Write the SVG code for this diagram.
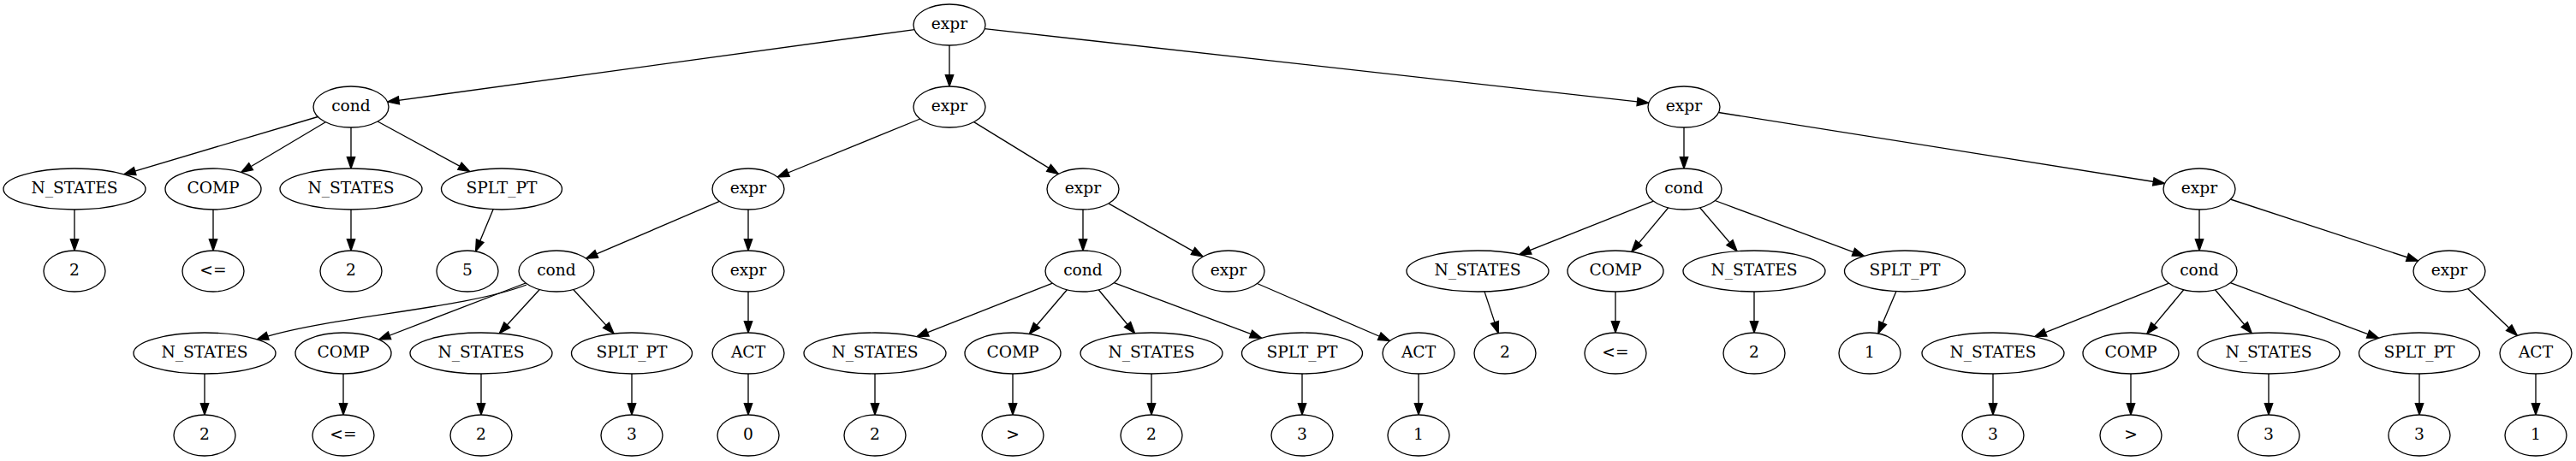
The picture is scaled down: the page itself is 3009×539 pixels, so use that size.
<svg xmlns="http://www.w3.org/2000/svg" width="3009" height="539" viewBox="0 0 3009 539">
<style>
.node ellipse{fill:#fff;stroke:#000;stroke-width:1.33}
.node text{font-family:"DejaVu Serif","Liberation Serif",serif;font-size:18.67px;text-anchor:middle;fill:#000}
#edges path{fill:none;stroke:#000;stroke-width:1.33;marker-end:url(#ah)}
</style>
<defs>
<marker id="ah" markerUnits="userSpaceOnUse" markerWidth="15" markerHeight="11" refX="13.33" refY="4.67" orient="auto" overflow="visible">
<path d="M0,0 L13.33,4.67 L0,9.33 Z" fill="#000" stroke="#000" stroke-width="1.33"/>
</marker>
</defs>
<rect width="3009" height="539" fill="#fff"/>
<g id="edges">
<path d="M1068.2,34.6 L452.7,119.1"/>
<path d="M1109,53 L1109,101"/>
<path d="M1150.2,33.6 L1925.8,120.4"/>
<path d="M371.4,136.5 L144.9,203.8"/>
<path d="M380.3,142.7 L281.7,201.5"/>
<path d="M410,149 L410,197"/>
<path d="M441.1,142 L548.7,200.6"/>
<path d="M1074.8,139 L908.2,207"/>
<path d="M1137.6,142.6 L1236.4,203.4"/>
<path d="M1967,149 L1967,197"/>
<path d="M2007.5,131.5 L2528.5,214.5"/>
<path d="M87,245 L87,293"/>
<path d="M249,245 L249,293"/>
<path d="M410,245 L410,293"/>
<path d="M576.1,244.8 L555.6,293.9"/>
<path d="M840.4,235.4 L684.6,302.2"/>
<path d="M874,245 L874,293"/>
<path d="M1265,245 L1265,293"/>
<path d="M1294.9,237.9 L1405.1,300.1"/>
<path d="M1931.5,235.2 L1774.8,297.6"/>
<path d="M1948.8,242.8 L1905.8,294.4"/>
<path d="M1985.6,242.8 L2029.1,293.7"/>
<path d="M2003.3,234.5 L2177.4,299.3"/>
<path d="M2569,245 L2569,293"/>
<path d="M2605.4,233 L2824.6,305"/>
<path d="M615,333 C540,362 380,370 300,397"/>
<path d="M614,331 L442.6,397"/>
<path d="M630.3,338.5 L583.3,389.8"/>
<path d="M669.7,338.5 L717,390.1"/>
<path d="M874,341 L874,389"/>
<path d="M1229.4,331.1 L1071,393.6"/>
<path d="M1246.4,338.8 L1202.3,390.5"/>
<path d="M1283.2,338.8 L1325.6,389.7"/>
<path d="M1301.3,330.6 L1473.6,395.2"/>
<path d="M1468.5,331.5 L1623.5,398.5"/>
<path d="M1734,340.9 L1750.2,389.6"/>
<path d="M1887,341 L1887,389"/>
<path d="M2049,341 L2049,389"/>
<path d="M2214.9,340.8 L2193.9,389.9"/>
<path d="M2533.5,331.2 L2376.8,393.6"/>
<path d="M2550.8,338.8 L2507.8,390.4"/>
<path d="M2587.4,338.8 L2630.3,389.7"/>
<path d="M2605.3,330.6 L2778.5,395.3"/>
<path d="M2882.6,337.6 L2940.4,392.4"/>
<path d="M239,437 L239,485"/>
<path d="M401,437 L401,485"/>
<path d="M562,437 L562,485"/>
<path d="M738,437 L738,485"/>
<path d="M874,437 L874,485"/>
<path d="M1022,437 L1022,485"/>
<path d="M1183,437 L1183,485"/>
<path d="M1345,437 L1345,485"/>
<path d="M1521,437 L1521,485"/>
<path d="M1657,437 L1657,485"/>
<path d="M2328,437 L2328,485"/>
<path d="M2489,437 L2489,485"/>
<path d="M2650,437 L2650,485"/>
<path d="M2826,437 L2826,485"/>
<path d="M2962,437 L2962,485"/>
</g>
<g id="n0" class="node"><ellipse cx="1109" cy="29" rx="42" ry="24"/><text x="1109" y="34">expr</text></g>
<g id="n1" class="node"><ellipse cx="410" cy="125" rx="44" ry="24"/><text x="410" y="130">cond</text></g>
<g id="n2" class="node"><ellipse cx="1109" cy="125" rx="42" ry="24"/><text x="1109" y="130">expr</text></g>
<g id="n3" class="node"><ellipse cx="1967" cy="125" rx="42" ry="24"/><text x="1967" y="130">expr</text></g>
<g id="n4" class="node"><ellipse cx="87" cy="221" rx="83" ry="24"/><text x="87" y="226">N_STATES</text></g>
<g id="n5" class="node"><ellipse cx="249" cy="221" rx="56" ry="24"/><text x="249" y="226">COMP</text></g>
<g id="n6" class="node"><ellipse cx="410" cy="221" rx="83" ry="24"/><text x="410" y="226">N_STATES</text></g>
<g id="n7" class="node"><ellipse cx="586" cy="221" rx="70.5" ry="24"/><text x="586" y="226">SPLT_PT</text></g>
<g id="n8" class="node"><ellipse cx="874" cy="221" rx="42" ry="24"/><text x="874" y="226">expr</text></g>
<g id="n9" class="node"><ellipse cx="1265" cy="221" rx="42" ry="24"/><text x="1265" y="226">expr</text></g>
<g id="n10" class="node"><ellipse cx="1967" cy="221" rx="44" ry="24"/><text x="1967" y="226">cond</text></g>
<g id="n11" class="node"><ellipse cx="2569" cy="221" rx="42" ry="24"/><text x="2569" y="226">expr</text></g>
<g id="n12" class="node"><ellipse cx="87" cy="317" rx="36" ry="24"/><text x="87" y="322">2</text></g>
<g id="n13" class="node"><ellipse cx="249" cy="317" rx="36" ry="24"/><text x="249" y="322">&lt;=</text></g>
<g id="n14" class="node"><ellipse cx="410" cy="317" rx="36" ry="24"/><text x="410" y="322">2</text></g>
<g id="n15" class="node"><ellipse cx="546" cy="317" rx="36" ry="24"/><text x="546" y="322">5</text></g>
<g id="n16" class="node"><ellipse cx="650" cy="317" rx="44" ry="24"/><text x="650" y="322">cond</text></g>
<g id="n17" class="node"><ellipse cx="874" cy="317" rx="42" ry="24"/><text x="874" y="322">expr</text></g>
<g id="n18" class="node"><ellipse cx="1265" cy="317" rx="44" ry="24"/><text x="1265" y="322">cond</text></g>
<g id="n19" class="node"><ellipse cx="1435" cy="317" rx="42" ry="24"/><text x="1435" y="322">expr</text></g>
<g id="n20" class="node"><ellipse cx="1726" cy="317" rx="83" ry="24"/><text x="1726" y="322">N_STATES</text></g>
<g id="n21" class="node"><ellipse cx="1887" cy="317" rx="56" ry="24"/><text x="1887" y="322">COMP</text></g>
<g id="n22" class="node"><ellipse cx="2049" cy="317" rx="83" ry="24"/><text x="2049" y="322">N_STATES</text></g>
<g id="n23" class="node"><ellipse cx="2225" cy="317" rx="70.5" ry="24"/><text x="2225" y="322">SPLT_PT</text></g>
<g id="n24" class="node"><ellipse cx="2569" cy="317" rx="44" ry="24"/><text x="2569" y="322">cond</text></g>
<g id="n25" class="node"><ellipse cx="2861" cy="317" rx="42" ry="24"/><text x="2861" y="322">expr</text></g>
<g id="n26" class="node"><ellipse cx="239" cy="413" rx="83" ry="24"/><text x="239" y="418">N_STATES</text></g>
<g id="n27" class="node"><ellipse cx="401" cy="413" rx="56" ry="24"/><text x="401" y="418">COMP</text></g>
<g id="n28" class="node"><ellipse cx="562" cy="413" rx="83" ry="24"/><text x="562" y="418">N_STATES</text></g>
<g id="n29" class="node"><ellipse cx="738" cy="413" rx="70.5" ry="24"/><text x="738" y="418">SPLT_PT</text></g>
<g id="n30" class="node"><ellipse cx="874" cy="413" rx="42" ry="24"/><text x="874" y="418">ACT</text></g>
<g id="n31" class="node"><ellipse cx="1022" cy="413" rx="83" ry="24"/><text x="1022" y="418">N_STATES</text></g>
<g id="n32" class="node"><ellipse cx="1183" cy="413" rx="56" ry="24"/><text x="1183" y="418">COMP</text></g>
<g id="n33" class="node"><ellipse cx="1345" cy="413" rx="83" ry="24"/><text x="1345" y="418">N_STATES</text></g>
<g id="n34" class="node"><ellipse cx="1521" cy="413" rx="70.5" ry="24"/><text x="1521" y="418">SPLT_PT</text></g>
<g id="n35" class="node"><ellipse cx="1657" cy="413" rx="42" ry="24"/><text x="1657" y="418">ACT</text></g>
<g id="n36" class="node"><ellipse cx="1758" cy="413" rx="36" ry="24"/><text x="1758" y="418">2</text></g>
<g id="n37" class="node"><ellipse cx="1887" cy="413" rx="36" ry="24"/><text x="1887" y="418">&lt;=</text></g>
<g id="n38" class="node"><ellipse cx="2049" cy="413" rx="36" ry="24"/><text x="2049" y="418">2</text></g>
<g id="n39" class="node"><ellipse cx="2184" cy="413" rx="36" ry="24"/><text x="2184" y="418">1</text></g>
<g id="n40" class="node"><ellipse cx="2328" cy="413" rx="83" ry="24"/><text x="2328" y="418">N_STATES</text></g>
<g id="n41" class="node"><ellipse cx="2489" cy="413" rx="56" ry="24"/><text x="2489" y="418">COMP</text></g>
<g id="n42" class="node"><ellipse cx="2650" cy="413" rx="83" ry="24"/><text x="2650" y="418">N_STATES</text></g>
<g id="n43" class="node"><ellipse cx="2826" cy="413" rx="70.5" ry="24"/><text x="2826" y="418">SPLT_PT</text></g>
<g id="n44" class="node"><ellipse cx="2962" cy="413" rx="42" ry="24"/><text x="2962" y="418">ACT</text></g>
<g id="n45" class="node"><ellipse cx="239" cy="509" rx="36" ry="24"/><text x="239" y="514">2</text></g>
<g id="n46" class="node"><ellipse cx="401" cy="509" rx="36" ry="24"/><text x="401" y="514">&lt;=</text></g>
<g id="n47" class="node"><ellipse cx="562" cy="509" rx="36" ry="24"/><text x="562" y="514">2</text></g>
<g id="n48" class="node"><ellipse cx="738" cy="509" rx="36" ry="24"/><text x="738" y="514">3</text></g>
<g id="n49" class="node"><ellipse cx="874" cy="509" rx="36" ry="24"/><text x="874" y="514">0</text></g>
<g id="n50" class="node"><ellipse cx="1022" cy="509" rx="36" ry="24"/><text x="1022" y="514">2</text></g>
<g id="n51" class="node"><ellipse cx="1183" cy="509" rx="36" ry="24"/><text x="1183" y="514">&gt;</text></g>
<g id="n52" class="node"><ellipse cx="1345" cy="509" rx="36" ry="24"/><text x="1345" y="514">2</text></g>
<g id="n53" class="node"><ellipse cx="1521" cy="509" rx="36" ry="24"/><text x="1521" y="514">3</text></g>
<g id="n54" class="node"><ellipse cx="1657" cy="509" rx="36" ry="24"/><text x="1657" y="514">1</text></g>
<g id="n55" class="node"><ellipse cx="2328" cy="509" rx="36" ry="24"/><text x="2328" y="514">3</text></g>
<g id="n56" class="node"><ellipse cx="2489" cy="509" rx="36" ry="24"/><text x="2489" y="514">&gt;</text></g>
<g id="n57" class="node"><ellipse cx="2650" cy="509" rx="36" ry="24"/><text x="2650" y="514">3</text></g>
<g id="n58" class="node"><ellipse cx="2826" cy="509" rx="36" ry="24"/><text x="2826" y="514">3</text></g>
<g id="n59" class="node"><ellipse cx="2962" cy="509" rx="36" ry="24"/><text x="2962" y="514">1</text></g>
</svg>
